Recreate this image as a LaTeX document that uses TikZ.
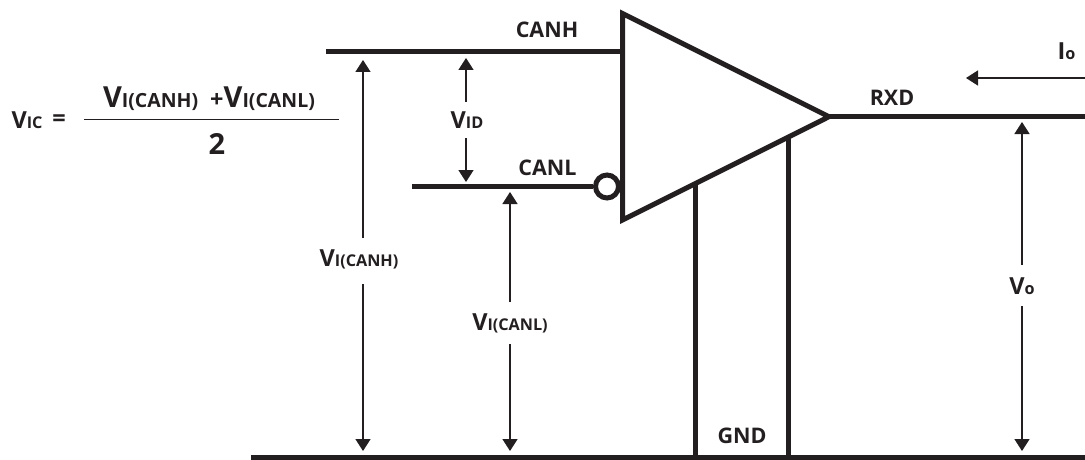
\documentclass[tikz,border=0pt]{standalone}
\usepackage{fontspec}
\setmainfont{Open Sans}
\usetikzlibrary{positioning, arrows.meta}
\definecolor{ink}{HTML}{231F20}
\newcommand{\bigv}[1]{{\fontsize{23.5}{23.5}\selectfont #1}}
\newcommand{\smallv}[1]{{\fontsize{16.2}{16.2}\selectfont #1}}
\newcommand{\bigf}[1]{{\fontsize{29}{29}\selectfont #1}}
\newcommand{\smallf}[1]{{\fontsize{19.5}{19.5}\selectfont #1}}

\begin{document}
\begin{tikzpicture}
            [x=1pt, y=-1pt, line join=miter,
             wire/.style={draw=ink, line width=5pt},
             dim/.style={draw=ink, line width=1.5pt, -{Triangle[length=12pt, width=15pt]}},
             lbl/.style={text=ink, inner sep=0pt, font=\bfseries\fontsize{21.5}{21.5}\selectfont},
             >={Stealth[]}]

            \useasboundingbox (0,0) rectangle (1085,460);

            \coordinate (tl) at (622.5,13.5);
            \coordinate (bl) at (622.5,220);
            \coordinate (tip) at (829,116.7);
            \coordinate (hstart) at (326,52);
            \coordinate (hend) at (622.5,52);
            \coordinate (lstart) at (412,186.5);
            \coordinate (rxdend) at (1085,116);
            \coordinate (rxdstart) at (826,116);
            \coordinate (gndl) at (251,457);
            \coordinate (gndr) at (1085,457);
            \coordinate (gnda) at (695,184);
            \coordinate (gnda0) at (695,457);
            \coordinate (gndb) at (788,137);
            \coordinate (gndb0) at (788,457);

            % amplifier
            \draw[wire] (tl) -- (tip) -- (bl) -- cycle;
            \node[circle, draw=ink, line width=5pt, minimum size=23pt, inner sep=0pt] (inv) at (607,186.5) {};

            % wires
            \draw[wire] (hstart) -- (hend);
            \draw[wire] (lstart) -- (inv);
            \draw[wire] (rxdstart) -- (rxdend);
            \draw[wire] (gndl) -- (gndr);
            \draw[wire] (gnda) -- (gnda0);
            \draw[wire] (gndb) -- (gndb0);

            % signal names
            \node[lbl] (canh) at (547,29.5) {CANH};
            \node[lbl] (canl) at (547.5,168) {CANL};
            \node[lbl] (rxd) at (892,98) {RXD};
            \node[lbl] (gnd) at (742,436) {GND};

            % voltages
            \node[lbl] (vcanh) at (359,259) {\bigv{V}\smallv{I(CANH)}};
            \node[lbl] (vcanl) at (510,323) {\bigv{V}\smallv{I(CANL)}};
            \node[lbl] (vid) at (467,120) {\bigv{V}\smallv{ID}};
            \node[lbl] (vo) at (1022,286) {\bigv{V}\smallv{o}};
            \node[lbl] (io) at (1066.5,51) {\bigv{I}\smallv{o}};

            \coordinate (a1) at (363,60);
            \coordinate (a1b) at (363,238);
            \coordinate (a1c) at (363,284);
            \coordinate (a2) at (363,451);
            \coordinate (b1) at (466,58);
            \coordinate (b1b) at (466,102);
            \coordinate (b1c) at (466,138);
            \coordinate (b2) at (466,182);
            \coordinate (c1) at (510,192);
            \coordinate (c1b) at (510,302);
            \coordinate (c1c) at (510,344);
            \coordinate (c2) at (510,451);
            \coordinate (d1) at (1022,122);
            \coordinate (d1b) at (1022,265);
            \coordinate (d1c) at (1022,306);
            \coordinate (d2) at (1022,451);
            \coordinate (e1) at (1085,78);
            \coordinate (e2) at (966,78);

            \draw[dim] (a1b) -- (a1);
            \draw[dim] (a1c) -- (a2);
            \draw[dim] (b1b) -- (b1);
            \draw[dim] (b1c) -- (b2);
            \draw[dim] (c1b) -- (c1);
            \draw[dim] (c1c) -- (c2);
            \draw[dim] (d1b) -- (d1);
            \draw[dim] (d1c) -- (d2);
            \draw[dim] (e1) -- (e2);

            % common mode formula
            \node[lbl] (vic) at (27,120.5) {\bigv{V}\smallv{IC}};
            \node[lbl] (eq) at (59,120.5) {\bigv{=}};
            \node[lbl] (num) at (209,99) {\bigf{V}\smallf{I(CANH)}\hspace{12pt}\bigv{+}\bigf{V}\smallf{I(CANL)}};
            \node[lbl] (den) at (217,144) {\bigf{2}};
            \coordinate (barl) at (84,119.5);
            \coordinate (barr) at (339,119.5);
            \draw[draw=ink, line width=1.5pt] (barl) -- (barr);
        \end{tikzpicture}
\end{document}
